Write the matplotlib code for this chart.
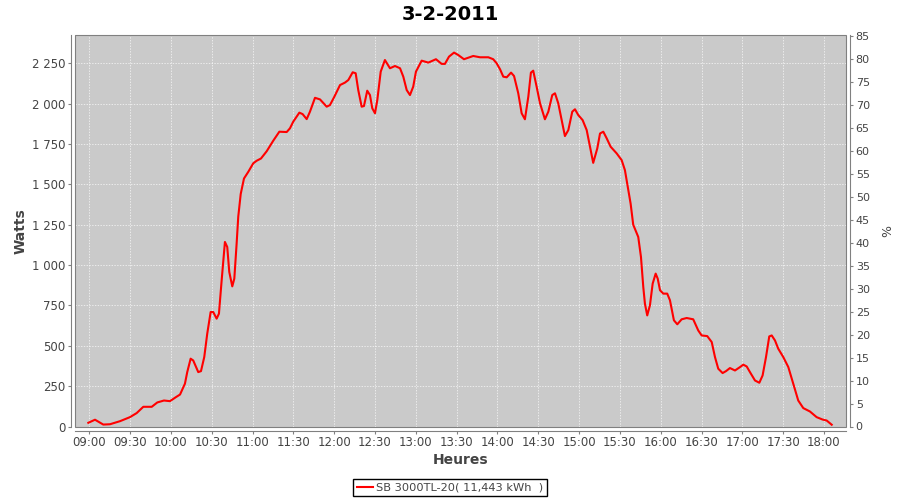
import pandas as pd
import matplotlib
matplotlib.use("Agg")
import matplotlib.pyplot as plt
import matplotlib.dates as mdates
from matplotlib.ticker import FuncFormatter, MultipleLocator
from matplotlib.patches import Rectangle

# data (minutes after 09:00, watts)
day = "2011-02-03"
title = "3-2-2011"
series_name = "SB 3000TL-20( 11,443 kWh  )"

minutes = [-0.7, 4.2, 10.3, 15.2, 22.6, 29.9, 34.8, 39.7, 45.9, 50.0,
           54.9, 59.3, 63.7, 66.7, 70.3, 72.0, 74.5, 76.4, 80.1, 82.1,
           84.5, 86.7, 89.2, 91.1, 93.6, 95.3, 97.3, 99.7, 101.4, 102.9,
           105.1, 106.6, 108.3, 109.5, 111.3, 113.7, 116.9, 120.5, 123.0, 126.2,
           130.4, 135.2, 139.7, 145.1, 147.5, 149.9, 154.4, 156.8, 159.8, 162.2,
           165.9, 169.6, 174.5, 176.9, 179.9, 184.3, 187.9, 190.4, 193.6, 195.8,
           197.7, 200.2, 201.9, 204.3, 206.3, 208.0, 210.0, 211.7, 214.2, 217.3,
           221.0, 224.7, 228.4, 230.8, 233.3, 235.7, 238.1, 240.1, 244.3, 249.2,
           254.8, 259.0, 261.4, 264.4, 268.1, 271.2, 275.4, 282.2, 287.2, 293.3,
           296.9, 299.4, 301.9, 304.3, 306.8, 310.0, 312.2, 315.3, 317.8, 320.2,
           322.7, 324.6, 326.3, 328.8, 331.3, 334.9, 337.4, 340.3, 342.3, 344.7,
           347.2, 349.6, 352.1, 355.0, 357.0, 359.4, 362.6, 365.6, 368.0, 370.4,
           373.4, 375.4, 377.8, 380.3, 383.2, 387.6, 391.3, 393.7, 396.2, 397.9,
           399.8, 403.5, 405.5, 407.2, 408.4, 410.1, 412.1, 414.1, 416.3, 417.8,
           419.5, 421.9, 424.8, 426.8, 429.7, 432.2, 435.4, 439.1, 443.9, 447.6,
           450.1, 454.2, 457.5, 459.9, 462.3, 465.5, 468.0, 470.9, 474.6, 478.3,
           480.7, 483.2, 485.6, 489.3, 492.5, 494.9, 497.4, 499.8, 501.6, 504.0,
           506.4, 510.1, 513.8, 517.4, 521.1, 524.8, 529.7, 534.6, 539.0, 542.0,
           545.7]

watts = [23, 42, 12, 14, 33, 58, 83, 122, 122, 149,
         161, 157, 182, 198, 265, 337, 420, 409, 337, 343,
         430, 575, 709, 709, 668, 699, 906, 1143, 1112, 957,
         868, 916, 1133, 1300, 1440, 1536, 1578, 1630, 1646, 1660,
         1705, 1770, 1826, 1824, 1847, 1888, 1944, 1935, 1904, 1950,
         2036, 2026, 1981, 1991, 2039, 2115, 2130, 2146, 2194, 2188,
         2084, 1981, 1985, 2080, 2053, 1971, 1940, 2022, 2198, 2270,
         2219, 2233, 2219, 2167, 2084, 2053, 2105, 2198, 2266, 2254,
         2275, 2246, 2246, 2291, 2316, 2301, 2275, 2295, 2287, 2287,
         2275, 2250, 2213, 2167, 2163, 2192, 2171, 2064, 1940, 1903,
         2043, 2192, 2204, 2105, 2002, 1903, 1950, 2053, 2064, 2002,
         1898, 1799, 1836, 1950, 1965, 1929, 1898, 1836, 1733, 1633,
         1723, 1815, 1826, 1785, 1733, 1692, 1650, 1588, 1464, 1380,
         1250, 1174, 1050, 864, 761, 688, 751, 885, 947, 916,
         844, 823, 823, 782, 658, 633, 664, 672, 664, 595,
         564, 560, 523, 430, 358, 331, 343, 362, 347, 368,
         383, 372, 337, 285, 271, 316, 430, 558, 564, 533,
         482, 430, 368, 265, 161, 114, 93, 58, 43, 37,
         11]

start = pd.Timestamp(day + " 09:00")
times = start + pd.to_timedelta(minutes, unit="min")

axis_gray = "#808080"
text_gray = "#444444"

fig = plt.figure(figsize=(9, 5), dpi=100)
ax = fig.add_axes([75 / 900, 1 - 426.5 / 500, 771 / 900, 391.5 / 500])
ax.set_facecolor("#CACACA")

ax.plot(times, watts, color="red", linewidth=1.5, label=series_name)

ax.set_xlim(start - pd.Timedelta(minutes=10.5), start + pd.Timedelta(minutes=556.2))
ax.set_ylim(0, 2425)

ax.xaxis.set_major_locator(mdates.MinuteLocator(byminute=[0, 30]))
ax.xaxis.set_major_formatter(mdates.DateFormatter("%H:%M"))
ax.yaxis.set_major_locator(MultipleLocator(250))
ax.yaxis.set_major_formatter(FuncFormatter(lambda v, p: "{:,.0f}".format(v).replace(",", " ")))

ax.grid(True, color="white", linestyle=(0, (2, 2)), linewidth=0.5, alpha=0.9)

for side in ["left", "bottom", "right"]:
    ax.spines[side].set_position(("outward", 3))
    ax.spines[side].set_color(axis_gray)
ax.spines["top"].set_visible(False)
ax.spines["right"].set_visible(False)
ax.add_patch(Rectangle((0, 0), 1, 1, transform=ax.transAxes, fill=False,
                       edgecolor=axis_gray, linewidth=0.8, clip_on=False, zorder=5))

ax.tick_params(axis="both", colors=axis_gray, labelcolor=text_gray,
               labelsize=8.5, length=2, width=0.8, pad=2)

ax.set_xlabel("Heures", fontsize=10, fontweight="bold", color=text_gray, labelpad=3)
ax.set_ylabel("Watts", fontsize=10, fontweight="bold", color=text_gray, labelpad=3)

# right-hand percent axis
ax2 = ax.twinx()
ax2.set_ylim(0, 85.2)
ax2.yaxis.set_major_locator(MultipleLocator(5))
for side in ["left", "bottom", "top"]:
    ax2.spines[side].set_visible(False)
ax2.spines["right"].set_position(("outward", 3))
ax2.spines["right"].set_color(axis_gray)
ax2.tick_params(axis="y", colors=axis_gray, labelcolor=text_gray,
                labelsize=8, length=2, width=0.8, pad=2)
ax2.set_ylabel("%", fontsize=9, color=text_gray, labelpad=8)

fig.text(0.5, 1 - 14 / 500, title, ha="center", va="center",
         fontsize=14, fontweight="bold", color="black")

leg = fig.legend(loc="center", bbox_to_anchor=(0.5, 1 - 487.5 / 500),
                 fontsize=8.2, frameon=True, fancybox=False, framealpha=1,
                 edgecolor="black", borderpad=0.3, handlelength=1.4,
                 handletextpad=0.3, borderaxespad=0)
leg.get_frame().set_linewidth(1.0)
for t in leg.get_texts():
    t.set_color(text_gray)

fig.savefig("out.png", dpi=100)
